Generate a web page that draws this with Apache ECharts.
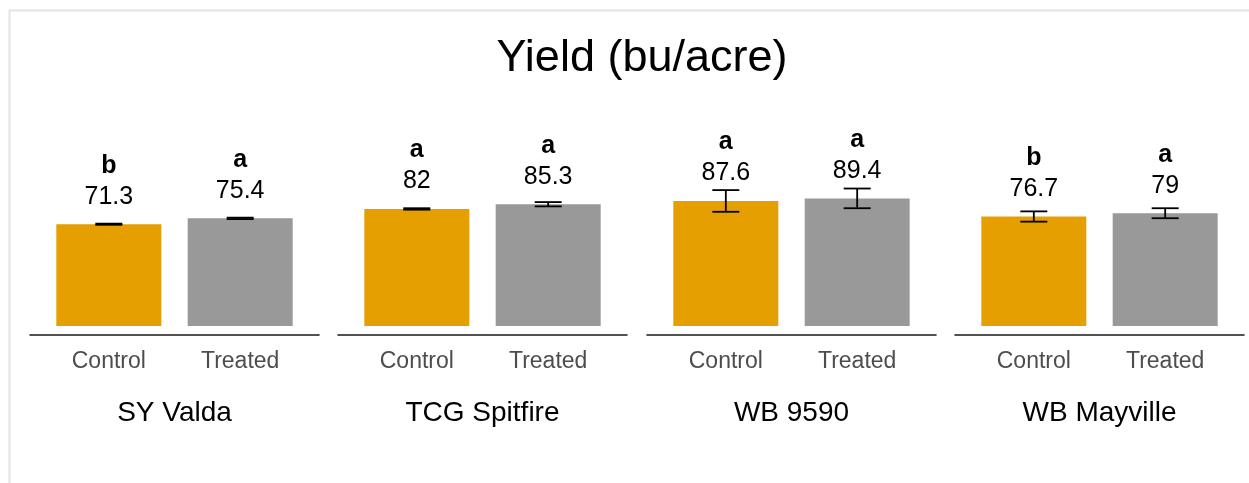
<!DOCTYPE html>
<html>
<head>
<meta charset="utf-8">
<script src="https://cdn.jsdelivr.net/npm/echarts@6/dist/echarts.min.js"></script>
<style>
  html, body { margin: 0; padding: 0; background: #fff; }
  #yield-chart { width: 1249px; height: 483px; }
</style>
</head>
<body>
<div id="yield-chart"></div>
<script>
// data
const varieties = ['SY Valda', 'TCG Spitfire', 'WB 9590', 'WB Mayville']
const treatments = ['Control', 'Treated']
const controlYield = [71.3, 82, 87.6, 76.7]
const treatedYield = [75.4, 85.3, 89.4, 79]
const controlErr = [0.4, 0.5, 7.6, 3.6]
const treatedErr = [0.5, 1.5, 6.9, 3.5]
const controlLetter = ['b', 'a', 'a', 'b']
const treatedLetter = ['a', 'a', 'a', 'a']
const barColors = ['#E69F00', '#999999']

const font = 'Liberation Sans, Arial, sans-serif'
const panelLeft = [30, 338, 647, 955]
const panelWidth = 289

const chart = echarts.init(document.getElementById('yield-chart'))

const grids = []
const xAxes = []
const yAxes = []
const series = []

varieties.forEach((name, i) => {
  grids.push({ left: panelLeft[i], width: panelWidth, top: 119, bottom: 148 })
  xAxes.push({
    type: 'value',
    gridIndex: i,
    min: 0.4,
    max: 2.6,
    name: name,
    nameLocation: 'middle',
    nameGap: 64,
    nameTextStyle: { color: '#000', fontSize: 28, fontFamily: font },
    axisLine: { show: true, onZero: false, lineStyle: { color: '#1a1a1a', width: 1.6 } },
    axisTick: { show: false },
    splitLine: { show: false },
    axisLabel: {
      customValues: [1, 2],
      margin: 15,
      color: '#4d4d4d',
      fontSize: 23,
      fontFamily: font,
      formatter: v => treatments[Math.round(v) - 1]
    }
  })
  yAxes.push({
    type: 'value',
    gridIndex: i,
    min: -6.3,
    max: 145,
    show: false,
    splitLine: { show: false }
  })

  const letters = [controlLetter[i], treatedLetter[i]]
  series.push({
    type: 'bar',
    xAxisIndex: i,
    yAxisIndex: i,
    barWidth: 105,
    data: [
      { value: [1, controlYield[i]], itemStyle: { color: barColors[0] } },
      { value: [2, treatedYield[i]], itemStyle: { color: barColors[1] } }
    ],
    label: {
      show: true,
      position: 'top',
      distance: 12,
      formatter: p => '{l|' + letters[p.dataIndex] + '}\n{v|' + p.value[1] + '}',
      rich: {
        l: { fontSize: 25, fontWeight: 'bold', color: '#000', fontFamily: font, lineHeight: 31 },
        v: { fontSize: 25, color: '#000', fontFamily: font, lineHeight: 31 }
      }
    },
    z: 2
  })

  // error bars
  series.push({
    type: 'custom',
    xAxisIndex: i,
    yAxisIndex: i,
    data: [
      [1, controlYield[i], controlErr[i]],
      [2, treatedYield[i], treatedErr[i]]
    ],
    encode: { x: 0, y: 1 },
    renderItem(params, api) {
      const x = api.value(0)
      const y = api.value(1)
      const e = api.value(2)
      const top = api.coord([x, y + e])
      const bot = api.coord([x, y - e])
      const hw = 13.5
      const style = { stroke: '#000', lineWidth: 1.8 }
      return {
        type: 'group',
        children: [
          { type: 'line', shape: { x1: top[0], y1: top[1], x2: bot[0], y2: bot[1] }, style },
          { type: 'line', shape: { x1: top[0] - hw, y1: top[1], x2: top[0] + hw, y2: top[1] }, style },
          { type: 'line', shape: { x1: bot[0] - hw, y1: bot[1], x2: bot[0] + hw, y2: bot[1] }, style }
        ]
      }
    },
    z: 5
  })
})

const option = {
  animation: false,
  title: {
    text: 'Yield (bu/acre)',
    left: 637,
    textAlign: 'center',
    top: 31,
    textStyle: { color: '#000', fontSize: 45, fontWeight: 'normal', fontFamily: font }
  },
  // light panel border
  graphic: [{
    type: 'rect',
    shape: { x: 9.5, y: 10.5, width: 1300, height: 600 },
    style: { fill: 'none', stroke: '#e3e3e3', lineWidth: 2 },
    silent: true
  }],
  grid: grids,
  xAxis: xAxes,
  yAxis: yAxes,
  series: series
}

chart.setOption(option)
</script>
</body>
</html>
